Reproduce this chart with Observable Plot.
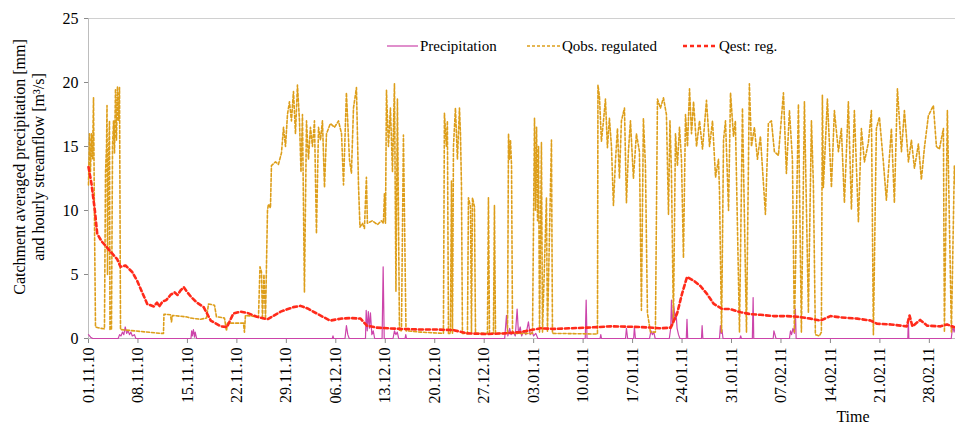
<!DOCTYPE html>
<html><head><meta charset="utf-8">
<script src="https://cdn.jsdelivr.net/npm/d3@7"></script>
<script src="https://cdn.jsdelivr.net/npm/@observablehq/plot@0.6"></script>
<style>
body{margin:0;background:#fff;}
[aria-label="y-axis tick"],[aria-label="x-axis tick"]{stroke:#8a8a8a;}
</style>
</head><body><div id="chart"></div>
<script>
// Time is given in days since 01.11.2010 00:00
const startUTC = Date.UTC(2010, 10, 1);
const endDay = 122.7;
const tickLabels = ["01.11.10","08.11.10","15.11.10","22.11.10","29.11.10","06.12.10","13.12.10","20.12.10","27.12.10","03.01.11","10.01.11","17.01.11","24.01.11","31.01.11","07.02.11","14.02.11","21.02.11","28.02.11"];
const yTicks = [0, 5, 10, 15, 20, 25];
const seriesNames = ["Precipitation", "Qobs. regulated", "Qest: reg."];
const seriesColors = ["#CC44AA", "#DD9E1A", "#FF2A1A"];

const precip = [[0,0.3],[0.3,0.1],[0.6,0],[4.2,0],[4.4,0.3],[4.6,0.2],[4.8,0.5],[5.0,0.3],[5.2,0.9],[5.4,0.4],[5.6,0.6],[5.8,0.3],[6.0,0.5],[6.2,0.2],[6.5,0.3],[6.7,0],
[14.5,0],[14.6,0.6],[14.7,0.2],[14.85,0.7],[15.0,0.1],[15.1,0.5],[15.3,0],[34.5,0],[34.6,0.2],[34.7,0],[36.3,0],[36.5,1.0],[36.7,0.3],[36.9,0],
[39.2,0],[39.3,2.2],[39.45,0.6],[39.6,2.1],[39.75,0.8],[39.9,2.0],[40.1,0.3],[40.3,0.6],[40.5,0],[41.55,0],[41.7,5.6],[41.85,0],
[43.1,0],[43.3,0.6],[43.5,0.3],[43.7,0.5],[43.9,0],[44.8,0],[44.9,0.3],[45.0,0],
[58.9,0],[59.15,1.8],[59.35,0.2],[59.6,0.8],[59.8,0.3],[60.1,0.5],[60.4,0.2],[60.66,2.3],[60.85,0.4],[61.1,0.9],[61.3,0.2],[61.6,0.6],[61.9,0.3],[62.26,1.3],[62.5,0.3],[62.8,0.5],[63.0,0.2],[63.3,0.4],[63.6,0],
[70.3,0],[70.43,3.0],[70.55,0],[72.4,0],[72.5,0.3],[72.6,0],[76.0,0],[76.13,0.8],[76.3,0],[77.15,0],[77.26,0.9],[77.4,0],
[79.4,0],[79.6,0.6],[79.8,0.3],[80.0,0.5],[80.2,0],[82.2,0],[82.4,0.8],[82.5,3.0],[82.65,1.0],[82.85,2.5],[83.0,1.5],[83.15,2.0],[83.3,0.8],[83.5,0.3],[83.7,0],
[84.6,0],[84.7,1.5],[84.8,0],[86.75,0],[86.84,1.0],[86.95,0],[89.3,0],[89.43,1.0],[89.55,0.4],[89.65,0.7],[89.8,0],[92.2,0],[92.3,0.2],[92.4,0],
[93.95,0],[94.06,3.2],[94.15,0],[96.9,0],[97.0,0.6],[97.15,0.3],[97.3,0],[99.2,0],[99.35,0.6],[99.5,0.3],[99.7,0.8],[99.9,0.4],[100.04,2.3],[100.15,0],
[115.95,0],[116.03,1.5],[116.1,0],[122.1,0],[122.3,1.0],[122.5,0.5],[122.7,0.9]];

const qobs = [[0,12],[0.14,16],[0.28,13],[0.42,16],[0.57,14],[0.71,18.8],[0.85,9],[0.99,0.9],[1.7,0.8],[2.26,0.75],[2.41,13],[2.55,15],[2.62,18.2],[2.69,5],[2.83,14],[2.97,17],[3.04,0.7],[3.25,0.7],[3.4,15],[3.54,17],[3.68,14.5],[3.82,19.5],[3.96,15.5],[4.1,19.7],[4.25,17],[4.39,19.6],[4.53,0.7],
[7.36,0.55],[10.19,0.4],[10.61,0.4],[10.68,1.9],[11.6,1.85],[11.74,1.3],[11.88,1.8],[13.73,1.7],[14.43,1.6],[15.85,1.5],[16.7,1.6],[16.98,2.7],[17.83,2.6],[18.11,1.7],[19.24,1.6],[19.53,0.6],[19.67,1.2],[21.93,1.2],[22.07,0.5],[22.21,1.8],[24.06,1.7],[24.27,5.6],[24.48,5.2],[24.62,1.5],[24.83,5],[25.05,1.5],[25.33,10],[25.47,10.5],[25.75,10.2],[25.89,13.5],[26.46,13.8],[26.88,13.6],[27.31,14.5],[27.6,16.5],[27.88,15],[28.16,17.5],[28.44,18.5],[28.72,17],[29.01,19.3],[29.29,16],[29.57,19.8],[29.86,17],[30.07,13],[30.28,17.5],[30.56,3.6],[30.85,17],[31.13,14],[31.41,16.5],[31.7,15],[31.98,17],[32.26,8.2],[32.55,16.5],[32.83,15.5],[33.11,17],[33.4,11.8],[33.68,16],[34.24,16.8],[34.81,16.5],[35.38,17],[35.81,16],[36.09,12],[36.5,19.2],[36.93,14],[37.21,12.9],[37.5,18],[37.92,19.6],[38.21,12],[38.42,8.7],[38.77,9],[39.05,8.6],[39.33,12.6],[39.47,9],[40.18,9.2],[40.89,8.9],[41.46,9.2],[41.74,9],[41.88,11.3],[42.03,9],[42.17,19.4],[42.45,15],[42.73,18],[43.02,13],[43.3,19.9],[43.51,3.7],[43.72,18.7],[44.01,0.6],[44.29,0.6],[44.57,15.9],[44.93,0.6],[46.98,0.5],[50.23,0.4],
[50.37,17.6],[50.65,15],[50.79,17],[50.94,0.4],[51.22,0.4],[51.37,12.3],[51.51,0.4],[51.65,15],[51.93,18],[52.21,14],[52.5,18],[52.64,16],[52.78,12],[52.92,0.4],[53.63,0.4],[53.77,11],[54.06,10.3],[54.2,0.4],[54.34,11],[54.62,10.3],[54.77,0.4],[56.46,0.4],[56.6,11],[56.75,0.4],[57.31,0.4],[57.45,10.4],[57.6,0.4],[59.3,0.4],[59.44,16],[59.58,14],[59.72,15.5],[59.87,13.5],[60.01,0.4],[62.84,0.4],[62.98,9],[63.12,17.2],[63.26,10],[63.41,16.5],[63.55,9.2],[63.69,15],[63.83,0.5],[64.1,15.3],[64.25,0.5],[64.81,11],[64.95,0.5],[65.52,15.5],[65.66,0.4],[72.03,0.35],
[72.1,19.8],[72.31,18.9],[72.59,15.4],[72.88,17],[73.16,18.7],[73.44,14.9],[73.72,17.2],[74.01,15],[74.29,10.4],[74.57,13.8],[74.86,16.4],[75.14,12.5],[75.42,17],[75.85,18],[76.13,10.6],[76.41,14.6],[76.7,17],[77.12,12.5],[77.54,16],[77.97,14.6],[78.25,2.2],[78.53,17.2],[78.82,13.5],[79.1,2.0],[79.53,0.5],[80.23,0.5],[80.52,18.7],[80.94,18],[81.37,18.8],[81.79,17.5],[82.08,9.7],[82.29,17],[82.5,13],[82.78,1.2],[83.07,16],[83.35,13.5],[83.64,16.5],[83.92,14],[84.2,6.3],[84.49,17.5],[84.77,15],[85.06,19.5],[85.34,16],[85.63,18.5],[86.05,15],[86.47,17],[86.9,14.8],[87.46,18.6],[87.89,15],[88.31,17],[88.74,12.6],[89.16,14],[89.3,11.5],[89.59,0.5],[89.87,15.5],[90.15,17],[90.58,10],[90.86,19.2],[91.28,15.8],[91.55,17],[92.13,0.5],[92.55,18],[93.12,0.5],[93.53,19.9],[93.82,15],[94.24,16.5],[94.67,14],[95.09,15.8],[95.8,9.7],[96.22,16.8],[96.65,17],[97.07,14.6],[97.64,14.3],[98.35,19.2],[98.77,12.9],[99.2,17.8],[99.62,14],[99.9,0.5],[100.47,18.3],[100.89,0.5],[101.32,18.5],[101.88,2.0],[102.31,17],[102.59,12],[102.87,0.3],[103.44,0.2],[103.72,0.5],[103.86,19],[104,11.8],[104.57,18.7],[105.14,11.8],[105.56,17.8],[106.13,14.6],[106.55,16.4],[106.98,10.6],[107.54,18.5],[107.97,10.1],[108.39,17.8],[108.96,9.1],[109.38,16.4],[109.81,13.8],[110.37,15.3],[110.8,17.8],[111.08,0.3],[111.5,16.4],[111.93,17.3],[112.49,13.8],[112.92,10.8],[113.63,16.4],[114.05,10.6],[114.48,19.5],[115.05,14.6],[115.47,17.8],[116.04,13.8],[116.46,15.5],[116.89,13.3],[117.45,15.2],[117.87,12.4],[118.3,14.9],[118.86,17.4],[119.57,18.2],[120,15],[120.42,14.8],[120.99,16.4],[121.13,0.5],[121.55,17.8],[122.12,0.5],[122.54,13.5],[122.7,12]];

const qest = [[0,13.4],[0.42,12.1],[0.9,10],[1.23,8.2],[1.84,7.6],[2.64,7.1],[3.25,6.7],[4.06,6.2],[4.53,5.6],[5.24,5.7],[6.18,5.2],[6.89,4.5],[7.6,3.6],[8.31,2.7],[9.24,2.5],[9.7,2.8],[10.0,2.5],[10.5,2.9],[11.0,3.0],[11.6,3.4],[12.2,3.6],[12.6,3.4],[13.1,3.8],[13.5,4.0],[14.0,3.6],[14.6,3.2],[15.35,2.8],[16.3,2.45],[17.3,1.4],[18.7,0.95],[19.6,0.9],[20.5,1.95],[21.5,2.1],[22.5,2.0],[23.8,1.7],[25.3,1.5],[27.2,2.1],[29.0,2.45],[30.0,2.55],[31.0,2.35],[32.8,1.8],[34.2,1.4],[35.7,1.55],[37.1,1.6],[38.5,1.55],[39.4,1.0],[40.8,0.85],[42.3,0.8],[44.1,0.75],[47,0.7],[49.3,0.7],[51.7,0.65],[53.6,0.4],[56.4,0.35],[58.8,0.4],[61.1,0.5],[63.0,0.7],[64,0.8],[65.8,0.75],[68.2,0.8],[70.6,0.85],[73.9,0.95],[78.1,0.9],[80.9,0.8],[82.4,0.85],[83.3,1.95],[84.0,3.5],[84.7,4.8],[85.7,4.5],[86.6,4.1],[87.5,3.5],[88.5,2.7],[89.7,2.3],[90.8,2.3],[92.3,2.05],[93.7,1.9],[95.1,1.85],[97.0,1.75],[98.9,1.75],[100.3,1.7],[102.2,1.55],[103.6,1.4],[105.0,1.75],[106.4,1.65],[108.8,1.55],[110.7,1.4],[111.6,1.15],[113.5,1.1],[115.8,0.95],[116.2,1.8],[116.6,0.95],[117.7,1.45],[118.7,1.0],[120.6,0.95],[121.5,1.1],[122.7,0.85]];

const toDate = d => new Date(startUTC + d * 864e5);
const rows = arr => arr.map(([d, v]) => ({date: toDate(d), value: v}));
const parseTick = s => { const [dd, mm, yy] = s.split(".").map(Number); return new Date(Date.UTC(2000 + yy, mm - 1, dd)); };
const serif = '"Liberation Serif", "Times New Roman", serif';
const dashes = [null, "3,2", "4,3"];
const widths = [1.2, 1.6, 2.6];

const chart = Plot.plot({
  width: 955, height: 429,
  marginLeft: 88, marginRight: 0, marginTop: 18, marginBottom: 91,
  style: {fontFamily: serif, fontSize: "16px", color: "#000", background: "#fff", overflow: "visible"},
  x: {type: "utc", domain: [toDate(0), toDate(endDay)], ticks: tickLabels.map(parseTick),
      tickFormat: d3.utcFormat("%d.%m.%y"), tickRotate: -90, tickSize: 5, tickPadding: 4, label: null},
  y: {domain: [0, 25], ticks: yTicks, tickSize: 4, tickPadding: 6, label: null},
  marks: [
    Plot.ruleY([25], {stroke: "#d0d0d0"}),
    Plot.ruleY([0], {stroke: "#bdbdbd"}),
    Plot.ruleX([toDate(0)], {stroke: "#bdbdbd"}),
    Plot.line(rows(precip), {x: "date", y: "value", stroke: seriesColors[0], strokeWidth: widths[0]}),
    Plot.line(rows(qobs), {x: "date", y: "value", stroke: seriesColors[1], strokeWidth: widths[1], strokeDasharray: dashes[1]}),
    Plot.line(rows(qest), {x: "date", y: "value", stroke: seriesColors[2], strokeWidth: widths[2], strokeDasharray: dashes[2]})
  ]
});
document.getElementById("chart").appendChild(chart);

const svg = d3.select(chart);
// Y title (two lines)
const yTitle = ["Catchment averaged precipitation [mm]", "and hourly streamflow [m\u00B3/s]"];
yTitle.forEach((t, i) => {
  svg.append("text").attr("transform", `translate(${25 + i * 19},167) rotate(-90)`)
    .attr("text-anchor", "middle").attr("font-family", serif).attr("font-size", 16).attr("fill", "#000").text(t);
});
// X title
svg.append("text").attr("x", 853).attr("y", 422).attr("text-anchor", "middle")
  .attr("font-family", serif).attr("font-size", 16).attr("fill", "#000").text("Time");
// Legend
const legendPos = [[387, 418], [527, 560], [683, 717]];
seriesNames.forEach((name, i) => {
  const [x1, x2] = legendPos[i];
  const ln = svg.append("line").attr("x1", x1).attr("x2", x2).attr("y1", 46).attr("y2", 46)
    .attr("stroke", seriesColors[i]).attr("stroke-width", widths[i]);
  if (dashes[i]) ln.attr("stroke-dasharray", dashes[i]);
  svg.append("text").attr("x", x2 + 2).attr("y", 51).attr("text-anchor", "start")
    .attr("font-family", serif).attr("font-size", 15).attr("fill", "#000").text(name);
});
</script>
</body></html>
